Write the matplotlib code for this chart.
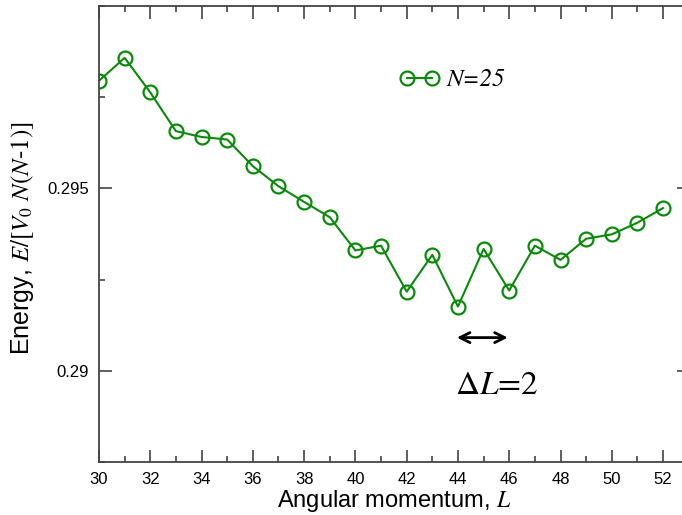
import matplotlib
matplotlib.use("Agg")
import matplotlib.pyplot as plt
from matplotlib.ticker import MultipleLocator, FixedLocator

plt.rcParams['mathtext.fontset'] = 'stix'
plt.rcParams['font.family'] = ['Liberation Sans', 'DejaVu Sans']

L = [30, 31, 32, 33, 34, 35, 36, 37, 38, 39, 40, 41, 42, 43, 44, 45, 46, 47, 48, 49, 50, 51, 52]
energy = [0.29795, 0.29858, 0.29763, 0.29657, 0.29641, 0.29634, 0.29561, 0.29506, 0.29463,
          0.29421, 0.29330, 0.29343, 0.29217, 0.29318, 0.29176, 0.29334, 0.29220, 0.29343,
          0.29304, 0.29362, 0.29374, 0.29406, 0.29446]
series_label = 'N=25'
xticks = [30, 32, 34, 36, 38, 40, 42, 44, 46, 48, 50, 52]
yticks = [0.29, 0.295]
ytick_labels = ['0.29', '0.295']

green = '#0a8a0a'
spine_col = '#444444'

fig = plt.figure(figsize=(6.82, 5.15), dpi=100)
ax = fig.add_axes([99/682, 53/515, 589.7/682, 456/515])

line, = ax.plot(L, energy, color=green, lw=1.5, marker='o', ms=10, mfc='none',
                mec=green, mew=1.6)

ax.set_xlim(30, 53)
ax.set_ylim(0.2875, 0.300)
ax.xaxis.set_major_locator(FixedLocator(xticks))
ax.xaxis.set_minor_locator(MultipleLocator(1))
ax.yaxis.set_major_locator(FixedLocator(yticks))
ax.set_yticklabels(ytick_labels)
ax.yaxis.set_minor_locator(MultipleLocator(0.0025))
ax.tick_params(which='both', direction='in', top=True, right=True, colors=spine_col,
               labelcolor='black', width=1.2)
ax.tick_params(which='major', length=9, labelsize=12, pad=7)
ax.tick_params(which='minor', length=4.5)
for s in ax.spines.values():
    s.set_color(spine_col)
    s.set_linewidth(1.3)

ax.set_xlabel(r'Angular momentum, $\mathit{L}$', fontsize=17)
ax.xaxis.set_label_coords(0.5, -0.057)
ax.set_ylabel(r'Energy, $\mathit{E/[V_0\ N(N}$-$\mathit{1)]}$', fontsize=18)
ax.yaxis.set_label_coords(-0.106, 0.49)

leg = ax.legend([line], [series_label], loc='center left',
                bbox_to_anchor=((399.5 - 99) / 589.7, (462 - 80) / 456),
                frameon=False, handlelength=1.6, handletextpad=0.28,
                borderpad=0, borderaxespad=0, numpoints=2,
                prop=dict(family=['STIXGeneral', 'DejaVu Serif'], style='italic', size=18))

ax.annotate('', xy=(46.05, 0.29091), xytext=(43.85, 0.29091),
            arrowprops=dict(arrowstyle='<->', color='black', lw=2, mutation_scale=18))
ax.text(45.5, 0.28957, r'$\Delta\mathit{L}$=2', fontsize=24, ha='center', va='center',
        family=['STIXGeneral', 'DejaVu Serif'])

fig.savefig('out.png', dpi=100)
